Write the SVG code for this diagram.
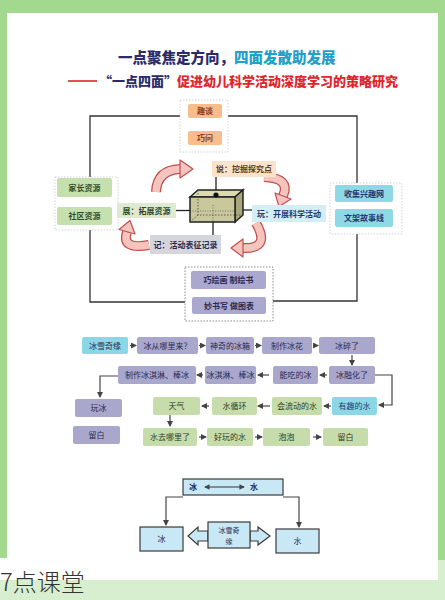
<svg xmlns="http://www.w3.org/2000/svg" width="445" height="600" viewBox="0 0 445 600">
<defs>
<style>
.t{font-family:"Noto Sans CJK SC","Noto Sans",sans-serif;font-size:8px;text-anchor:middle;fill:#2b2a4f}
.lav{fill:#aaa7cc}
.grn{fill:#c6dcab}
.cyn{fill:#8cd7e6}
.ln{fill:none;stroke:#333;stroke-width:1.3}
.fa{fill:none;stroke:#444;stroke-width:1.2;marker-end:url(#ah)}
.frm{fill:#fff;stroke:#c8c8c8;stroke-width:0.8;stroke-dasharray:1.5 1.5}
.co{fill:none;stroke:#c0504d;stroke-width:10}
.ci{fill:none;stroke:#f5c4bf;stroke-width:7.5}
.ch{fill:#f5c4bf;stroke:#c0504d;stroke-width:1.2;stroke-linejoin:round}
.bb{fill:#c9e8f5;stroke:#3a3a3a;stroke-width:1.2}
</style>
<marker id="ah" viewBox="0 0 6 6" refX="5" refY="3" markerWidth="5" markerHeight="5" orient="auto-start-reverse"><path d="M0,0 L6,3 L0,6 z" fill="#444"/></marker>
</defs>

<!-- background -->
<rect x="0" y="0" width="445" height="600" fill="#d8efcf"/>
<rect x="0" y="0" width="445" height="560" fill="#a3d98e"/>
<rect x="0" y="558" width="438" height="22" fill="#ffffff"/>
<rect x="7" y="13" width="431" height="567" fill="#ffffff"/>

<!-- titles -->
<text x="118" y="62.5" font-family="'Noto Sans CJK SC',sans-serif" font-size="14.5" font-weight="900"><tspan fill="#2d2a6b">一点聚焦定方向，</tspan><tspan fill="#22a0c9">四面发散助发展</tspan></text>
<line x1="68" y1="81" x2="97" y2="81" stroke="#d6262b" stroke-width="1.6"/>
<text x="99" y="86" font-family="'Noto Sans CJK SC',sans-serif" font-size="13" font-weight="900"><tspan fill="#2d2a6b">“一点四面”</tspan><tspan fill="#e0262b">促进幼儿科学活动深度学习的策略研究</tspan></text>

<!-- connectors -->
<g id="connectors">
<path class="ln" d="M90 177 V116 H180"/>
<path class="ln" d="M228 116 H357 V183"/>
<path class="ln" d="M90 230 V302 H185"/>
<path class="ln" d="M357 234 V301 H273"/>
<line x1="205" y1="118" x2="205" y2="131" stroke="#d9a47a" stroke-width="1"/>
<line x1="84.5" y1="197" x2="84.5" y2="207" stroke="#6a8a5a" stroke-width="1"/>
<line x1="364" y1="202" x2="364" y2="209" stroke="#5a8aa0" stroke-width="1"/>
<line x1="229" y1="289" x2="229" y2="297" stroke="#555" stroke-width="1"/>
<!-- cube lines -->
<line x1="216" y1="177" x2="216" y2="195" stroke="#222" stroke-width="1.3"/>
<line x1="176" y1="210.5" x2="200" y2="210.5" stroke="#222" stroke-width="1.3"/>
<line x1="243" y1="210" x2="252" y2="210" stroke="#222" stroke-width="1.3"/>
<line x1="213" y1="222" x2="213" y2="235" stroke="#222" stroke-width="1.3"/>
<!-- flow row 1 -->
<line class="fa" x1="130" y1="345.5" x2="136" y2="345.5"/>
<line class="fa" x1="199" y1="345.5" x2="205" y2="345.5"/>
<line class="fa" x1="255" y1="345.5" x2="261" y2="345.5"/>
<line class="fa" x1="313" y1="345.5" x2="318" y2="345.5"/>
<line class="fa" x1="352" y1="355" x2="352" y2="365"/>
<!-- row 2 -->
<line class="fa" x1="327" y1="375" x2="320" y2="375"/>
<line class="fa" x1="269" y1="375" x2="258" y2="375"/>
<line class="fa" x1="203" y1="375" x2="197" y2="375"/>
<path class="fa" d="M375 375 H392 V405 H379"/>
<path class="fa" d="M118 376 H100 V397"/>
<!-- row 3 -->
<line class="fa" x1="331" y1="406" x2="324" y2="406"/>
<line class="fa" x1="270" y1="406" x2="258" y2="406"/>
<line class="fa" x1="209" y1="406" x2="202" y2="406"/>
<line class="fa" x1="170" y1="415" x2="170" y2="426"/>
<!-- row 4 -->
<line class="fa" x1="199" y1="437" x2="206" y2="437"/>
<line class="fa" x1="255" y1="437" x2="262" y2="437"/>
<line class="fa" x1="313" y1="437" x2="321" y2="437"/>
<!-- bottom -->
<path class="fa" d="M183 497 H166 V525"/>
<path class="fa" d="M283 497 H299 V527"/>
<!-- curved arrows -->
<path class="co" d="M156 192 Q157 170 180 169"/>
<path class="ci" d="M156 192 Q157 170 180 169"/>
<polygon class="ch" points="193,169 180,160 180,178"/>
<path class="co" d="M264 177 Q291 178 283 196"/>
<path class="ci" d="M264 177 Q291 178 283 196"/>
<polygon class="ch" points="279,206.5 291,199 275,193"/>
<path class="co" d="M256 223 Q271 249 243 248"/>
<path class="ci" d="M256 223 Q271 249 243 248"/>
<polygon class="ch" points="231,248 243,239 243,257"/>
<path class="co" d="M149 245 Q121 250 127 232"/>
<path class="ci" d="M149 245 Q121 250 127 232"/>
<polygon class="ch" points="130,220.5 135,234 119,229.5"/>
</g>

<!-- top panel -->
<g id="top-panel">
<rect class="frm" x="180" y="100" width="48" height="52"/>
<rect x="188" y="104" width="34" height="14" rx="2" fill="#f7bd8a"/>
<text class="t" x="205" y="114" style="fill:#8a3b1e;font-weight:bold">趣谈</text>
<rect x="188" y="131" width="34" height="14" rx="2" fill="#f7bd8a"/>
<text class="t" x="205" y="141" style="fill:#8a3b1e;font-weight:bold">巧问</text>
</g>

<g id="left-panel">
<rect class="frm" x="55" y="177" width="63" height="53"/>
<rect x="57" y="178" width="55" height="19" rx="2" fill="#c5dfae"/>
<text class="t" x="84.5" y="190.5" style="fill:#34502a;font-weight:bold">家长资源</text>
<rect x="57" y="207" width="55" height="18" rx="2" fill="#c5dfae"/>
<text class="t" x="84.5" y="219" style="fill:#34502a;font-weight:bold">社区资源</text>
</g>

<g id="right-panel">
<rect class="frm" x="330" y="183" width="72" height="51"/>
<rect x="335" y="185" width="58" height="17" rx="2" fill="#8fd8e6"/>
<text class="t" x="364" y="196.5" style="fill:#1e3a6e;font-weight:bold">收集兴趣网</text>
<rect x="335" y="209" width="58" height="18" rx="2" fill="#8fd8e6"/>
<text class="t" x="364" y="221" style="fill:#1e3a6e;font-weight:bold">文架故事线</text>
</g>

<g id="bottom-panel">
<rect x="185" y="267" width="88" height="54" fill="#fff" stroke="#8a8a8a" stroke-width="1" stroke-dasharray="1.5 1.5"/>
<rect x="191" y="271" width="75" height="18" rx="2" fill="#aba8cf"/>
<text class="t" x="228.5" y="283" style="font-weight:bold">巧绘画  制绘书</text>
<rect x="192" y="297" width="74" height="17" rx="2" fill="#aba8cf"/>
<text class="t" x="229" y="308.5" style="font-weight:bold">妙书写  做图表</text>
</g>

<!-- cube -->
<g id="cube">
<polygon points="190,197 198,190 243,190 235,197" fill="#dcdab2" stroke="#222" stroke-width="1.5"/>
<polygon points="235,197 243,190 243,215 235,222" fill="#a9a77b" stroke="#222" stroke-width="1.5"/>
<rect x="190" y="197" width="45" height="25" fill="#c9c79c" stroke="#222" stroke-width="1.5"/>
<path d="M198 190 V215 H243 M198 215 L190 222" fill="none" stroke="#444" stroke-width="0.8" stroke-dasharray="1.5 1.5"/>
<path d="M190 211 H235 M213 205 V222" fill="none" stroke="#444" stroke-width="0.6" stroke-dasharray="1 1.5"/>
<circle cx="216" cy="195" r="2.6" fill="#111"/>
</g>

<g id="label-shuo">
<rect x="212" y="161" width="64" height="16" fill="#fae3cc"/>
<text class="t" x="244" y="172" style="fill:#5a3a1a;font-weight:bold">说：挖掘探究点</text>
</g>
<g id="label-zhan">
<rect x="117" y="203" width="59" height="15" fill="#e0ead2"/>
<text class="t" x="146.5" y="213.5" style="fill:#33461f;font-weight:bold">展：拓展资源</text>
</g>
<g id="label-wan">
<rect x="252" y="205" width="74" height="17" fill="#d3eef4"/>
<text class="t" x="289" y="216.5" style="fill:#1e3a6e;font-weight:bold">玩：开展科学活动</text>
</g>
<g id="label-ji">
<rect x="150" y="235" width="71" height="19" fill="#d5d5dc"/>
<text class="t" x="185.5" y="247.5" style="fill:#2b2a4f;font-weight:bold">记：活动表征记录</text>
</g>

<!-- flow row 1 -->
<g id="r1a"><rect class="cyn" x="82" y="337" width="46" height="17" rx="2"/><text class="t" x="105" y="348.5">冰雪奇缘</text></g>
<g id="r1b"><rect class="lav" x="137" y="337" width="61" height="17" rx="2"/><text class="t" x="167.5" y="348.5">冰从哪里来？</text></g>
<g id="r1c"><rect class="lav" x="206" y="337" width="48" height="17" rx="2"/><text class="t" x="230" y="348.5">神奇的冰箱</text></g>
<g id="r1d"><rect class="lav" x="262" y="337" width="50" height="17" rx="2"/><text class="t" x="287" y="348.5">制作冰花</text></g>
<g id="r1e"><rect class="lav" x="319" y="337" width="56" height="17" rx="2"/><text class="t" x="347" y="348.5">冰碎了</text></g>

<!-- row 2 -->
<g id="r2a"><rect class="lav" x="118" y="366" width="78" height="18" rx="2"/><text class="t" x="157" y="378">制作冰淇淋、棒冰</text></g>
<g id="r2b"><rect class="lav" x="205" y="366" width="51" height="18" rx="2"/><text class="t" x="230.5" y="378">冰淇淋、棒冰</text></g>
<g id="r2c"><rect class="lav" x="273" y="366" width="45" height="18" rx="2"/><text class="t" x="295.5" y="378">能吃的冰</text></g>
<g id="r2d"><rect class="lav" x="329" y="366" width="46" height="18" rx="2"/><text class="t" x="352" y="378">冰融化了</text></g>

<!-- row 3 -->
<g id="r3a"><rect class="lav" x="75" y="399" width="47" height="18" rx="2"/><text class="t" x="98.5" y="411">玩冰</text></g>
<g id="r3b"><rect class="grn" x="153" y="397" width="47" height="18" rx="2"/><text class="t" x="176.5" y="409" style="fill:#2e3b1e">天气</text></g>
<g id="r3c"><rect class="grn" x="212" y="397" width="45" height="18" rx="2"/><text class="t" x="234.5" y="409" style="fill:#2e3b1e">水循环</text></g>
<g id="r3d"><rect class="grn" x="272" y="397" width="50" height="18" rx="2"/><text class="t" x="297" y="409" style="fill:#2e3b1e">会流动的水</text></g>
<g id="r3e"><rect class="cyn" x="332" y="397" width="45" height="18" rx="2"/><text class="t" x="354.5" y="409" style="fill:#1e3a6e">有趣的水</text></g>

<!-- row 4 -->
<g id="r4a"><rect class="lav" x="73" y="426" width="47" height="18" rx="2"/><text class="t" x="96.5" y="438">留白</text></g>
<g id="r4b"><rect class="grn" x="143" y="428" width="54" height="18" rx="2"/><text class="t" x="170" y="440" style="fill:#2e3b1e">水去哪里了</text></g>
<g id="r4c"><rect class="grn" x="207" y="428" width="46" height="18" rx="2"/><text class="t" x="230" y="440" style="fill:#2e3b1e">好玩的水</text></g>
<g id="r4d"><rect class="grn" x="263" y="428" width="47" height="18" rx="2"/><text class="t" x="286.5" y="440" style="fill:#2e3b1e">泡泡</text></g>
<g id="r4e"><rect class="grn" x="323" y="428" width="45" height="18" rx="2"/><text class="t" x="345.5" y="440" style="fill:#2e3b1e">留白</text></g>

<!-- bottom section -->
<g id="ice-water">
<rect class="bb" x="183" y="479" width="100" height="16"/>
<text class="t" x="193" y="490" style="font-weight:bold">冰</text>
<line x1="205" y1="487" x2="244" y2="487" stroke="#333" stroke-width="1.1" marker-start="url(#ah)" marker-end="url(#ah)"/>
<text class="t" x="254" y="490" style="font-weight:bold">水</text>
</g>
<g id="ice-box"><rect class="bb" x="140" y="527" width="43" height="24"/><text class="t" x="161.5" y="542">冰</text></g>
<g id="water-box"><rect class="bb" x="276" y="529" width="43" height="24"/><text class="t" x="297.5" y="544">水</text></g>
<g id="frozen-box">
<polygon class="bb" points="198,531 198,527 188,536 198,545 198,541 208,541 208,531"/>
<polygon class="bb" points="250,531 258,531 258,527 270,536 258,545 258,541 250,541"/>
<rect class="bb" x="208" y="522" width="42" height="26"/>
<text class="t" x="229" y="533" style="font-size:7px">冰雪奇</text>
<text class="t" x="229" y="544" style="font-size:7px">缘</text>
</g>

<text x="0" y="591" font-family="'Noto Sans CJK SC',sans-serif" font-size="24" font-weight="300" fill="#333">7点课堂</text>
</svg>
